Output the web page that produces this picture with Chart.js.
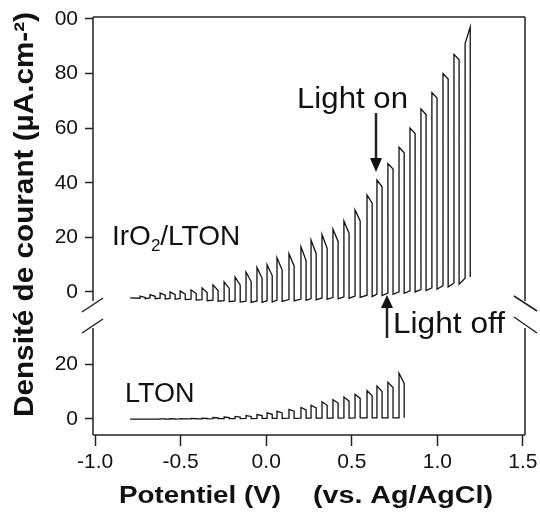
<!DOCTYPE html>
<html>
<head>
<meta charset="utf-8">
<script src="https://cdn.jsdelivr.net/npm/chart.js@4/dist/chart.umd.min.js"></script>
<style>
  html, body { margin: 0; padding: 0; background: #fff; }
</style>
</head>
<body>
<canvas id="chopChart" width="540" height="523"></canvas>
<script>
// chopped-light LSV, IrO2/LTON (top) and LTON (bottom)
const pulseWidth = 0.03; // light-on duration in V

const irStart = [-0.795, -2.2];
const irOn = [-0.737, -0.679, -0.620, -0.562, -0.503, -0.439, -0.375, -0.311, -0.246, -0.182, -0.118, -0.054,
  0.005, 0.063, 0.133, 0.203, 0.262, 0.326, 0.390, 0.454, 0.519, 0.589, 0.647, 0.711, 0.776, 0.840, 0.904,
  0.968, 1.033, 1.097, 1.162];
const irDark = [-2.3, -2.2, -2.3, -2.4, -2.4, -2.6, -2.8, -3.0, -3.2, -3.3, -3.4, -3.3, -3.2, -3.0, -2.8, -2.6,
  -2.4, -2.2, -2.0, -1.8, -1.5, -1.2, -0.8, -0.4, 0.0, 0.4, 0.9, 1.5, 2.3, 3.3, 5.0];
const irPeak = [-1.5, -1.0, -0.4, 0.0, 0.4, 0.7, 1.5, 2.6, 3.7, 5.5, 7.3, 9.0, 10.0, 12.5, 14.0, 16.5, 19.0,
  21.0, 23.0, 26.0, 30.0, 35.5, 41.0, 47.0, 53.0, 60.0, 67.0, 73.0, 80.0, 87.0, 91.0];
const irPlateau = [-2.0, -1.6, -1.2, -1.0, -0.8, -0.6, -0.2, 0.5, 1.3, 2.5, 3.8, 5.0, 6.0, 8.0, 9.5, 11.5, 14.0,
  16.0, 18.5, 21.5, 26.0, 32.5, 38.5, 45.0, 51.0, 58.0, 65.0, 71.0, 78.0, 85.0, 97.0];
const irLow = [-2.5, -2.5, -2.6, -2.7, -2.8, -3.0, -3.2, -3.4, -3.6, -3.7, -3.8, -3.8, -3.7, -3.5, -3.3, -3.1,
  -2.9, -2.7, -2.5, -2.3, -2.0, -1.7, -1.3, -0.9, -0.5, 0.0, 0.5, 1.0, 1.8, 2.8, 5.5];

const ltonStart = [-0.795, -0.1];
const ltonOn = [-0.737, -0.679, -0.620, -0.562, -0.503, -0.439, -0.375, -0.311, -0.246, -0.182, -0.118, -0.054,
  0.005, 0.063, 0.133, 0.203, 0.262, 0.326, 0.390, 0.454, 0.519, 0.589, 0.647, 0.711, 0.776];
const ltonDark = [-0.1, -0.1, -0.1, -0.1, 0.0, 0.0, 0.0, 0.1, 0.1, 0.1, 0.2, 0.2, 0.2, 0.2, 0.3, 0.3, 0.3,
  0.3, 0.3, 0.4, 0.4, 0.4, 0.4, 0.4, 0.4];
const ltonPeak = [-0.1, -0.1, 0.0, 0.05, 0.05, 0.15, 0.3, 0.5, 0.7, 0.9, 1.2, 1.6, 2.2, 2.8, 3.5, 4.2, 5.0,
  6.3, 7.0, 8.0, 9.0, 10.4, 12.0, 13.4, 16.7];
const ltonPlateau = [-0.1, -0.1, 0.0, 0.0, 0.0, 0.1, 0.2, 0.4, 0.5, 0.7, 0.9, 1.2, 1.7, 2.2, 2.8, 3.3, 4.0,
  5.0, 5.8, 6.5, 7.5, 8.5, 10.0, 11.5, 13.0];
const ltonLow = [-0.1, -0.1, -0.1, -0.1, 0.0, 0.0, 0.0, 0.1, 0.1, 0.1, 0.1, 0.2, 0.2, 0.2, 0.2, 0.3, 0.3,
  0.3, 0.3, 0.3, 0.4, 0.4, 0.4, 0.4, 0.4];

// the top panel sits above a broken axis: its zero is shifted up by this many units
const topOffset = 46.5;
const yTickValues = [0, 20, 46.5, 66.5, 86.5, 106.5, 126.5, 146.5];
const yTickLabels = ['0', '20', '0', '20', '40', '60', '80', '00'];
const xTickValues = [-1.0, -0.5, 0.0, 0.5, 1.0, 1.5];
const xTickLabels = ['-1.0', '-0.5', '0.0', '0.5', '1.0', '1.5'];

function buildTrace(start, on, dark, peak, plateau, low, offset) {
  const pts = [{ x: start[0], y: start[1] + offset }];
  on.forEach((v, i) => {
    pts.push({ x: v, y: dark[i] + offset });
    pts.push({ x: v, y: peak[i] + offset });
    pts.push({ x: v + pulseWidth, y: plateau[i] + offset });
    pts.push({ x: v + pulseWidth, y: low[i] + offset });
  });
  return pts;
}

const FONT = '"Liberation Sans", Arial, Helvetica, sans-serif';
Chart.defaults.font.family = FONT;
Chart.defaults.color = '#111';

function stretchText(ctx, txt, x, y, w) {
  const m = ctx.measureText(txt).width;
  ctx.save();
  ctx.translate(x, y);
  ctx.scale(w / m, 1);
  ctx.fillText(txt, 0, 0);
  ctx.restore();
}

function line(ctx, x1, y1, x2, y2) {
  ctx.beginPath();
  ctx.moveTo(x1, y1);
  ctx.lineTo(x2, y2);
  ctx.stroke();
}

const decor = {
  id: 'decor',
  afterDraw(chart) {
    const ctx = chart.ctx;
    const a = chart.chartArea;
    ctx.save();
    ctx.strokeStyle = '#222';
    ctx.fillStyle = '#111';
    ctx.lineWidth = 1.5;
    // frame with the axis break
    line(ctx, a.left, a.top, a.right, a.top);
    line(ctx, a.left, a.bottom, a.right, a.bottom);
    line(ctx, a.left, a.top, a.left, 301);
    line(ctx, a.left, 328, a.left, a.bottom);
    line(ctx, a.right, a.top, a.right, 301);
    line(ctx, a.right, 328, a.right, a.bottom);
    // break marks
    line(ctx, 82, 312, 103, 298);
    line(ctx, 82, 333, 103, 319);
    line(ctx, 514, 296, 537, 311);
    line(ctx, 514, 317, 537, 333);

    // arrows
    ctx.lineWidth = 2.5;
    line(ctx, 376, 113, 376, 160);
    line(ctx, 387, 338, 387, 306);
    ctx.beginPath();
    ctx.moveTo(370, 158); ctx.lineTo(382, 158); ctx.lineTo(376, 172); ctx.closePath(); ctx.fill();
    ctx.beginPath();
    ctx.moveTo(381, 308); ctx.lineTo(393, 308); ctx.lineTo(387, 295); ctx.closePath(); ctx.fill();

    // annotations
    ctx.textBaseline = 'alphabetic';
    ctx.textAlign = 'left';
    ctx.font = '29px ' + FONT;
    stretchText(ctx, 'Light on', 297, 108, 111);
    stretchText(ctx, 'Light off', 393, 333, 112);
    ctx.font = '28px ' + FONT;
    ctx.fillText('IrO', 112, 245);
    let w = ctx.measureText('IrO').width;
    ctx.font = '17px ' + FONT;
    ctx.fillText('2', 112 + w, 251);
    w += ctx.measureText('2').width;
    ctx.font = '28px ' + FONT;
    ctx.fillText('/LTON', 112 + w, 245);
    ctx.font = '27px ' + FONT;
    ctx.fillText('LTON', 125, 402);

    // axis titles
    ctx.font = 'bold 23px ' + FONT;
    stretchText(ctx, 'Potentiel (V)', 119, 503, 162);
    stretchText(ctx, '(vs. Ag/AgCl)', 313, 503, 180);
    ctx.font = 'bold 28px ' + FONT;
    ctx.save();
    ctx.translate(33, 417);
    ctx.rotate(-Math.PI / 2);
    stretchText(ctx, 'Densité de courant (µA.cm-²)', 0, 0, 405);
    ctx.restore();
    ctx.restore();
  }
};

new Chart(document.getElementById('chopChart'), {
  type: 'line',
  data: {
    datasets: [
      {
        label: 'IrO2/LTON',
        data: buildTrace(irStart, irOn, irDark, irPeak, irPlateau, irLow, topOffset),
        borderColor: '#111',
        borderWidth: 1.3,
        pointRadius: 0,
        tension: 0,
        fill: false
      },
      {
        label: 'LTON',
        data: buildTrace(ltonStart, ltonOn, ltonDark, ltonPeak, ltonPlateau, ltonLow, 0),
        borderColor: '#111',
        borderWidth: 1.3,
        pointRadius: 0,
        tension: 0,
        fill: false
      }
    ]
  },
  options: {
    responsive: false,
    animation: false,
    devicePixelRatio: 1,
    layout: { padding: { top: 17, right: 15, left: 0, bottom: 0 } },
    plugins: { legend: { display: false }, tooltip: { enabled: false } },
    scales: {
      x: {
        type: 'linear',
        min: -1.012,
        max: 1.512,
        afterBuildTicks: (s) => { s.ticks = xTickValues.map(v => ({ value: v })); },
        afterFit: (s) => { s.height = 88; s.paddingLeft = 0; s.paddingRight = 0; },
        ticks: {
          autoSkip: false,
          maxRotation: 0,
          padding: 4,
          font: { size: 21 },
          color: '#111',
          callback: (v, i) => xTickLabels[i]
        },
        grid: { drawOnChartArea: false, drawTicks: true, tickLength: 11, tickWidth: 1.5, tickColor: '#222' },
        border: { display: false }
      },
      y: {
        type: 'linear',
        min: -5.9,
        max: 147.2,
        afterBuildTicks: (s) => { s.ticks = yTickValues.map(v => ({ value: v })); },
        afterFit: (s) => { s.width = 93; s.paddingTop = 0; s.paddingBottom = 0; },
        ticks: {
          autoSkip: false,
          padding: 7,
          font: { size: 21 },
          color: '#111',
          callback: (v, i) => yTickLabels[i]
        },
        grid: { drawOnChartArea: false, drawTicks: true, tickLength: 8, tickWidth: 1.5, tickColor: '#222' },
        border: { display: false }
      }
    }
  },
  plugins: [decor]
});
</script>
</body>
</html>
